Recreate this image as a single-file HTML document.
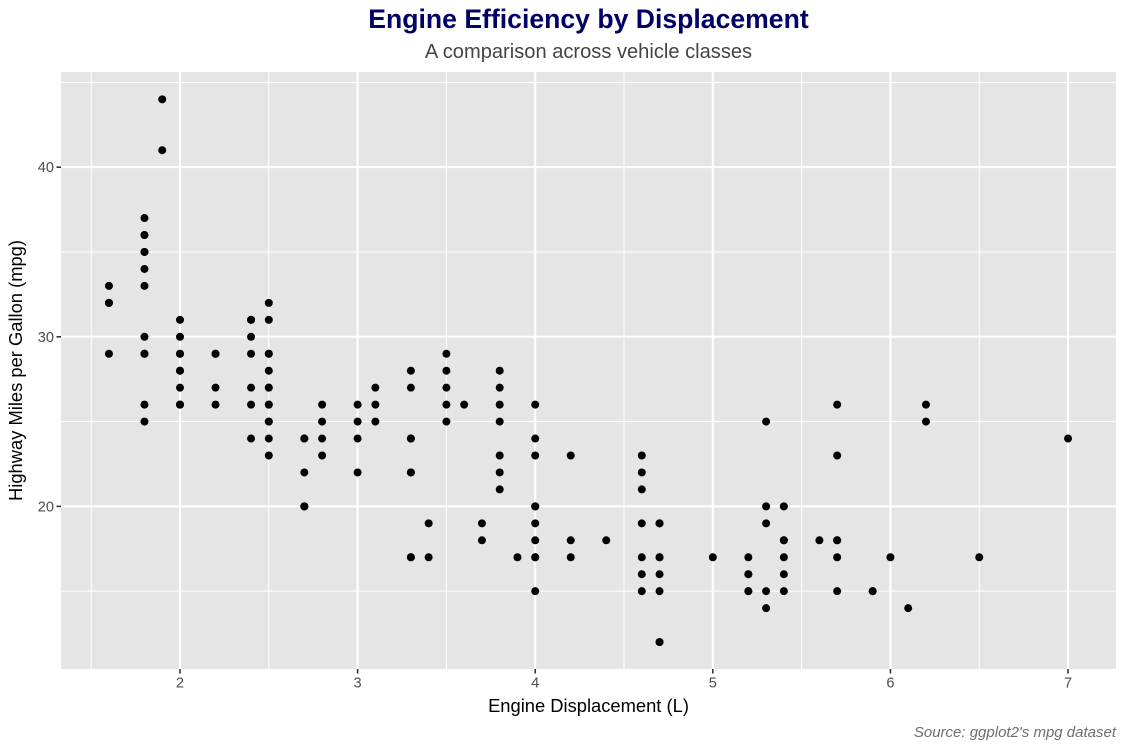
<!DOCTYPE html>
<html lang="en">
<head>
<meta charset="utf-8">
<title>Engine Efficiency by Displacement</title>
<style>
html,body{margin:0;padding:0;background:#fff;width:1125px;height:750px;overflow:hidden}
svg{display:block}
text{font-family:"Liberation Sans",Arial,sans-serif}
</style>
</head>
<body>
<svg id="chart" xmlns="http://www.w3.org/2000/svg" width="1125" height="750" viewBox="0 0 1125 750">
  <rect x="0" y="0" width="1125" height="750" fill="#fff"/>
  <rect x="61" y="72" width="1055" height="597" fill="#e5e5e5"/>
  <g id="grid"></g>
  <g id="points"></g>
  <g id="axes"></g>
  <text x="588.5" y="28" text-anchor="middle" font-size="26.6" font-weight="bold" fill="#000066">Engine Efficiency by Displacement</text>
  <text x="588.5" y="58" text-anchor="middle" font-size="20.1" fill="#444444">A comparison across vehicle classes</text>
  <text x="588.5" y="712" text-anchor="middle" font-size="18.35" fill="#000">Engine Displacement (L)</text>
  <text transform="translate(22 370.5) rotate(-90)" text-anchor="middle" font-size="18.35" fill="#000">Highway Miles per Gallon (mpg)</text>
  <text x="1116" y="737" text-anchor="end" font-size="15" font-style="italic" fill="#6e6e6e">Source: ggplot2's mpg dataset</text>
</svg>
<script>
const displacement = [
1.6,1.6,1.6,1.6,
1.8,1.8,1.8,1.8,1.8,1.8,1.8,1.8,1.8,1.8,1.8,1.8,
1.9,1.9,
2,2,2,2,2,2,2,2,2,
2.2,2.2,2.2,2.2,
2.4,2.4,2.4,2.4,2.4,2.4,2.4,
2.5,2.5,2.5,2.5,2.5,2.5,2.5,2.5,2.5,2.5,2.5,2.5,2.5,
2.7,2.7,2.7,2.7,2.7,
2.8,2.8,2.8,2.8,
3,3,3,3,
3.1,3.1,3.1,
3.3,3.3,3.3,3.3,3.3,3.3,3.3,3.3,
3.4,3.4,
3.5,3.5,3.5,3.5,3.5,
3.6,
3.7,3.7,
3.8,3.8,3.8,3.8,3.8,3.8,3.8,
3.9,
4,4,4,4,4,4,4,4,4,4,
4.2,4.2,4.2,
4.4,
4.6,4.6,4.6,4.6,4.6,4.6,4.6,
4.7,4.7,4.7,4.7,4.7,4.7,4.7,4.7,
5,
5.2,5.2,5.2,5.2,5.2,
5.3,5.3,5.3,5.3,5.3,
5.4,5.4,5.4,5.4,5.4,5.4,
5.6,
5.7,5.7,5.7,5.7,5.7,5.7,
5.9,5.9,
6,
6.1,
6.2,6.2,
6.5,
7
];
const highwayMpg = [
33,32,32,29,
37,36,36,35,35,34,33,30,29,29,26,25,
44,41,
31,30,29,29,28,28,27,26,26,
29,29,27,26,
31,31,30,29,27,26,24,
32,31,29,29,28,27,27,26,26,25,25,24,23,
24,24,22,20,20,
26,25,24,23,
26,25,24,22,
27,26,25,
28,27,24,24,22,22,17,17,
19,17,
29,28,27,26,25,
26,
19,18,
28,27,26,25,23,22,21,
17,
26,24,23,20,20,19,18,17,17,15,
23,18,17,
18,
23,22,21,19,17,16,15,
19,19,17,17,16,15,12,12,
17,
17,16,16,15,15,
25,20,19,15,14,
20,18,18,17,16,15,
18,
26,23,18,18,17,15,
15,15,
17,
14,
26,25,
17,
24
];
const xMajorTicks = [2,3,4,5,6,7];
const xMinorTicks = [1.5,2.5,3.5,4.5,5.5,6.5];
const yMajorTicks = [20,30,40];
const yMinorTicks = [15,25,35,45];

const NS = 'http://www.w3.org/2000/svg';
const panel = {left:61,right:1116,top:72.2,bottom:669.2};
const xDomain = [1.33,7.27];
const yDomain = [10.4,45.6];
function xScale(v){return panel.left+(v-xDomain[0])/(xDomain[1]-xDomain[0])*(panel.right-panel.left);}
function yScale(v){return panel.bottom-(v-yDomain[0])/(yDomain[1]-yDomain[0])*(panel.bottom-panel.top);}
function line(parent,x1,y1,x2,y2,stroke,width){
  const el=document.createElementNS(NS,'line');
  el.setAttribute('x1',x1);el.setAttribute('y1',y1);el.setAttribute('x2',x2);el.setAttribute('y2',y2);
  el.setAttribute('stroke',stroke);el.setAttribute('stroke-width',width);
  parent.appendChild(el);
  return el;
}
const grid=document.getElementById('grid');
const axes=document.getElementById('axes');
const pts=document.getElementById('points');
const panelTop=72;
const panelBottom=669;

xMinorTicks.forEach(function(t){
  const el=line(grid,xScale(t),panelTop,xScale(t),panelBottom,'#fff',1);
  
  
});
yMinorTicks.forEach(function(t){
  const el=line(grid,panel.left,yScale(t),panel.right,yScale(t),'#fff',1);
  
  
});
xMajorTicks.forEach(function(t){
  const el=line(grid,xScale(t),panelTop,xScale(t),panelBottom,'#fff',2);
  
  
  const tick=line(axes,xScale(t),panelBottom,xScale(t),panelBottom+4.5,'#333',1.6);
  
  
  const label=document.createElementNS(NS,'text');
  
  
  label.setAttribute('x',xScale(t));
  label.setAttribute('y',panelBottom+18.5);
  label.setAttribute('text-anchor','middle');
  label.setAttribute('font-size','14.6');
  label.setAttribute('fill','#4d4d4d');
  label.textContent=String(t);
  axes.appendChild(label);
});
yMajorTicks.forEach(function(t){
  const el=line(grid,panel.left,yScale(t),panel.right,yScale(t),'#fff',2);
  
  
  const tick=line(axes,panel.left-4.5,yScale(t),panel.left,yScale(t),'#333',1.6);
  
  
  const label=document.createElementNS(NS,'text');
  
  
  label.setAttribute('x',panel.left-7);
  label.setAttribute('y',yScale(t)+5);
  label.setAttribute('text-anchor','end');
  label.setAttribute('font-size','14.6');
  label.setAttribute('fill','#4d4d4d');
  label.textContent=String(t);
  axes.appendChild(label);
});
displacement.forEach(function(d,i){
  const c=document.createElementNS(NS,'circle');
  
  
  c.setAttribute('cx',xScale(d));
  c.setAttribute('cy',yScale(highwayMpg[i]));
  c.setAttribute('r',4);
  c.setAttribute('fill','#000');
  pts.appendChild(c);
});
</script>
</body>
</html>
